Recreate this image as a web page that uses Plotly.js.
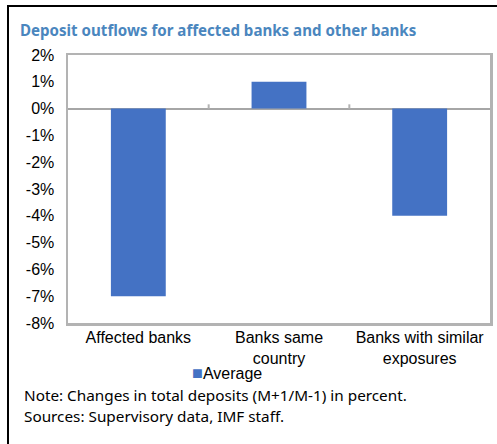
<!DOCTYPE html>
<html>
<head>
<meta charset="utf-8">
<script src="https://cdn.plot.ly/plotly-3.0.1.min.js"></script>
<style>
html,body{margin:0;padding:0;background:#fff;}
#wrap{position:relative;width:497px;height:444px;overflow:hidden;}
#chart{position:absolute;left:0;top:0;width:497px;height:444px;}
#frame{position:absolute;left:7px;top:5px;width:500px;height:460px;border-left:2px solid #000;border-top:2px solid #000;pointer-events:none;}
</style>
</head>
<body>
<div id="wrap"><div id="chart"></div><div id="frame"></div></div>
<script>
var categories = ["Affected banks", "Banks same<br>country", "Banks with similar<br>exposures"];
var averageValues = [-7, 1, -4];
var seriesName = "Average";
var yTickVals = [2, 1, 0, -1, -2, -3, -4, -5, -6, -7, -8];
var yTickText = yTickVals.map(function(v){ return v + "%"; });
var titleText = "Deposit outflows for affected banks and other banks";
var noteText = "Note: Changes in total deposits (M+1/M-1) in percent.";
var sourcesText = "Sources: Supervisory data, IMF staff.";
var barColor = "#4472C4";

var boundaryShapes = [];
for (var i = 1; i < categories.length; i++) {
  boundaryShapes.push({type:"line", xref:"x", yref:"y", x0:i-0.5, x1:i-0.5, y0:0, y1:0.16,
    line:{color:"#b3b3b3", width:2}});
}

var trace = {
  type: "bar",
  x: categories,
  y: averageValues,
  name: seriesName,
  marker: {color: barColor},
  width: 0.39,
  showlegend: false
};

var sansArial = "Liberation Sans, Arial, sans-serif";
var sansNote = "Noto Sans, Open Sans, sans-serif";

var layout = {
  width: 497, height: 444,
  margin: {l: 68, r: 7, t: 55, b: 121},
  paper_bgcolor: "#fff", plot_bgcolor: "#fff",
  font: {family: sansArial, size: 16, color: "#000"},
  title: {text: "<b>" + titleText + "</b>", x: 20/497, xanchor: "left", y: 1 - 31/444, yanchor: "middle",
    font: {family: sansNote, size: 15.1, color: "#4A86BE"}},
  xaxis: {type: "category", range: [-0.5, 2.5], showline: true, mirror: true, linecolor: "#b3b3b3", linewidth: 2.5,
    ticks: "", showgrid: false, zeroline: false, ticklabelstandoff: -2,
    tickfont: {family: sansArial, size: 16}, fixedrange: true},
  yaxis: {range: [-8, 2], tickmode: "array", tickvals: yTickVals, ticktext: yTickText,
    showline: true, mirror: true, linecolor: "#b3b3b3", linewidth: 2.5, showgrid: false,
    zeroline: true, zerolinecolor: "#a6a6a6", zerolinewidth: 2, ticks: "", ticklabelstandoff: 8,
    tickfont: {family: sansArial, size: 16}, fixedrange: true},
  shapes: boundaryShapes,
  showlegend: false,
  annotations: [
    {text: "<span style='color:" + barColor + ";font-size:18px'>■</span>" + seriesName, xref: "paper", yref: "paper",
      x: (190-68)/422, xanchor: "left", y: (323-372.5)/268, yanchor: "middle",
      showarrow: false, font: {family: sansArial, size: 16, color: "#000"}},
    {text: noteText, xref: "paper", yref: "paper", x: (22-68)/422, xanchor: "left", y: (323-395)/268, yanchor: "middle",
      showarrow: false, font: {family: sansNote, size: 15.3, color: "#000"}},
    {text: sourcesText, xref: "paper", yref: "paper", x: (22-68)/422, xanchor: "left", y: (323-415.5)/268, yanchor: "middle",
      showarrow: false, font: {family: sansNote, size: 15.3, color: "#000"}}
  ],
  bargap: 0.61
};

Plotly.newPlot("chart", [trace], layout, {displayModeBar: false, staticPlot: true});
</script>
</body>
</html>
